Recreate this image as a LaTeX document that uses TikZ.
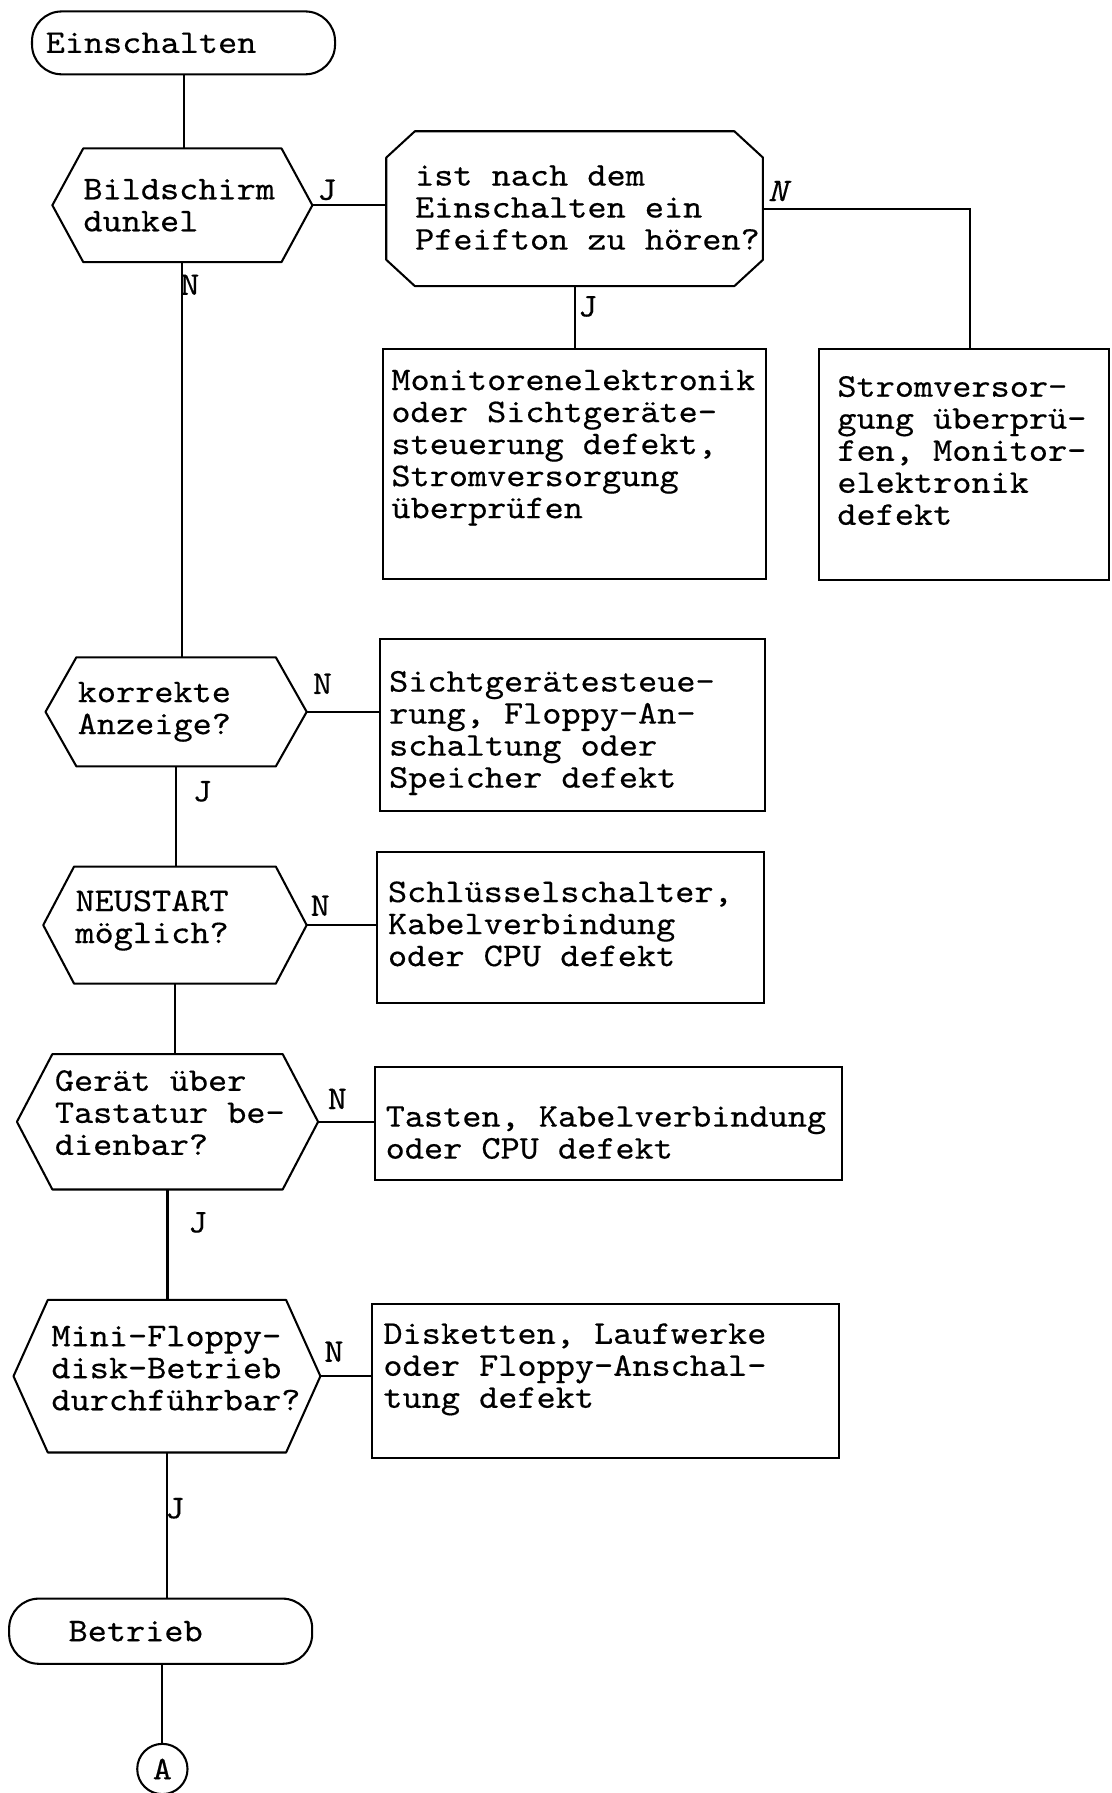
\documentclass[tikz,border=0pt]{standalone}
\usepackage{fontspec}
\setmonofont{lmmono10-regular.otf}[ItalicFont=lmmono10-italic.otf, FakeStretch=1.1, FakeBold=0.4]

\tikzset{
  frame/.style={draw, line width=1.8pt, inner sep=0pt},
  outline/.style={inner sep=0pt},
  terminal/.style={draw, line width=1.8pt, rounded corners=26pt, minimum width=265pt, align=left},
  txt/.style={inner sep=0pt, align=left, anchor=west},
  lbl/.style={inner sep=0pt},
  link/.style={line width=1.8pt},
}

% decision outlines drawn round a named node
\newcommand{\hexa}[2]{%
  \draw[link, line join=round] (#1.west) -- ([xshift=#2]#1.north west) -- ([xshift=-#2]#1.north east)
    -- (#1.east) -- ([xshift=-#2]#1.south east) -- ([xshift=#2]#1.south west) -- cycle;}
\newcommand{\octa}[3]{%
  \draw[link, line join=round] ([yshift=-#3]#1.north west) -- ([xshift=#2]#1.north west)
    -- ([xshift=-#2]#1.north east) -- ([yshift=-#3]#1.north east)
    -- ([yshift=#3]#1.south east) -- ([xshift=-#2]#1.south east)
    -- ([xshift=#2]#1.south west) -- ([yshift=#3]#1.south west) -- cycle;}

\begin{document}
\begin{tikzpicture}[x=1pt, y=-1pt]
    \tikzstyle{every node}+=[font=\ttfamily\fontsize{29}{28}\selectfont]
    \useasboundingbox (0,0) rectangle (972,1568);

    % start / end
    \node[terminal, minimum height=55pt, inner xsep=12pt, text width=241pt] (start) at (160.5,37.5) {Einschalten};
    \node[terminal, minimum height=57pt, inner xsep=52pt, text width=161pt] (stop) at (140.5,1426.5) {Betrieb};
    \node[draw, circle, line width=1.8pt, minimum size=44pt, inner sep=0pt] (conA) at (142,1547) {A};

    % questions
    \node[outline, minimum width=227pt, minimum height=99pt] (dark) at (159.5,179.5) {};
    \hexa{dark}{27pt}
    \node[txt] (darktxt) at ([xshift=27pt]dark.west) {Bildschirm\\dunkel};

    \node[outline, minimum width=329pt, minimum height=135pt] (beep) at (502.5,182.5) {};
    \octa{beep}{25pt}{23pt}
    \node[txt] (beeptxt) at ([xshift=25pt,yshift=1pt]beep.west) {ist nach dem\\Einschalten ein\\Pfeifton zu hören?};

    \node[outline, minimum width=228pt, minimum height=95pt] (show) at (154,622.5) {};
    \hexa{show}{27pt}
    \node[txt] (showtxt) at ([xshift=28pt]show.west) {korrekte\\Anzeige?};

    \node[outline, minimum width=230pt, minimum height=102pt] (boot) at (153,809) {};
    \hexa{boot}{27pt}
    \node[txt] (boottxt) at ([xshift=28pt,yshift=4pt]boot.west) {NEUSTART\\möglich?};

    \node[outline, minimum width=263pt, minimum height=118pt] (keys) at (146.5,981) {};
    \hexa{keys}{31pt}
    \node[txt] (keystxt) at ([xshift=33pt,yshift=8pt]keys.west) {Gerät über\\Tastatur be-\\dienbar?};

    \node[outline, minimum width=268pt, minimum height=133pt] (disk) at (146,1203.5) {};
    \hexa{disk}{30pt}
    \node[txt] (disktxt) at ([xshift=33pt,yshift=7pt]disk.west) {Mini-Floppy-\\disk-Betrieb\\durchführbar?};

    % faults
    \node[frame, minimum width=335pt, minimum height=201pt] (mon) at (502.5,405.5) {};
    \node[txt] (montxt) at ([xshift=8pt,yshift=14pt]mon.west) {Monitorenelektronik\\oder Sichtgeräte-\\steuerung defekt,\\Stromversorgung\\überprüfen};

    \node[frame, minimum width=254pt, minimum height=202pt] (power) at (843,406) {};
    \node[txt] (powertxt) at ([xshift=17pt,yshift=12pt]power.west) {Stromversor-\\gung überprü-\\fen, Monitor-\\elektronik\\defekt};

    \node[frame, minimum width=337pt, minimum height=150pt] (vid) at (500.5,634) {};
    \node[txt] (vidtxt) at ([xshift=9pt,yshift=-7pt]vid.west) {Sichtgerätesteue-\\rung, Floppy-An-\\schaltung oder\\Speicher defekt};

    \node[frame, minimum width=338pt, minimum height=132pt] (cpu) at (499,811) {};
    \node[txt] (cputxt) at ([xshift=10pt,yshift=3pt]cpu.west) {Schlüsselschalter,\\Kabelverbindung\\oder CPU defekt};

    \node[frame, minimum width=408pt, minimum height=99pt] (kbd) at (532,982.5) {};
    \node[txt] (kbdtxt) at ([xshift=10pt,yshift=-8pt]kbd.west) {Tasten, Kabelverbindung\\oder CPU defekt};

    \node[frame, minimum width=409pt, minimum height=135pt] (fdd) at (529.5,1207.5) {};
    \node[txt] (fddtxt) at ([xshift=11pt,yshift=10pt]fdd.west) {Disketten, Laufwerke\\oder Floppy-Anschal-\\tung defekt};

    % connections
    \draw[link] (start.south) -- (start.south |- dark.north);
    \draw[link] (dark.east) -- (dark.east -| beep.west);
    \draw[link] (beep.east) -| ([xshift=5pt]power.north);
    \draw[link] (beep) -- (mon);
    \draw[link] (dark.south) -- (dark.south |- show.north);
    \draw[link] (show.east) -- (show.east -| vid.west);
    \draw[link] (show.south) -- (show.south |- boot.north);
    \draw[link] (boot.east) -- (boot.east -| cpu.west);
    \draw[link] (boot.south) -- (boot.south |- keys.north);
    \draw[link] (keys.east) -- (keys.east -| kbd.west);
    \draw[link] (keys.south) -- (keys.south |- disk.north);
    \draw[link] (disk.east) -- (disk.east -| fdd.west);
    \draw[link] (disk.south) -- (disk.south |- stop.north);
    \draw[link] (conA |- stop.south) -- (conA);

    % answers
    \node[lbl] (jdark) at (286,166) {J};
    \node[lbl] (ndark) at (166,249) {N};
    \node[lbl] (nbeep) at (680,167) {\itshape N};
    \node[lbl] (jbeep) at (514,268) {J};
    \node[lbl] (nshow) at (282,598) {N};
    \node[lbl] (jshow) at (177,692) {J};
    \node[lbl] (nboot) at (280,792) {N};
    \node[lbl] (nkeys) at (295,961) {N};
    \node[lbl] (jkeys) at (173,1069) {J};
    \node[lbl] (ndisk) at (292,1182) {N};
    \node[lbl] (jdisk) at (153,1319) {J};
\end{tikzpicture}
\end{document}
